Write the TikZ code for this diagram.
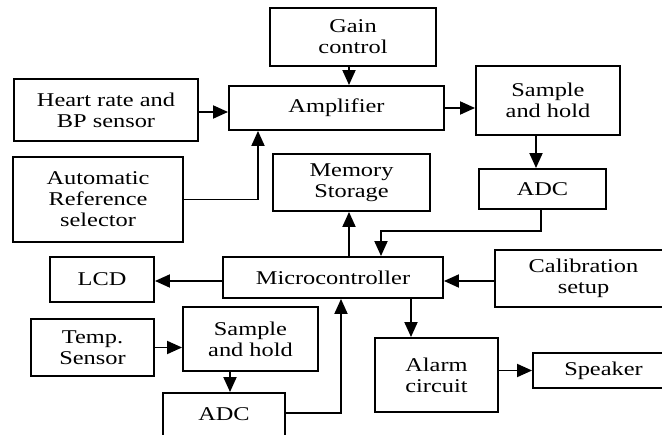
\documentclass[tikz,border=0pt]{standalone}
\usepackage{fontspec}
\setmainfont[FakeStretch=1.25]{Liberation Serif}
\usetikzlibrary{arrows.meta}

\tikzset{
  blk/.style={draw=black, line width=1.9pt, fill=white, inner sep=0pt,
              align=center, font=\fontsize{19.5}{21}\selectfont},
  link/.style={line width=1.9pt, -{Triangle[length=15pt,width=13pt]}},
}

\begin{document}
\begin{tikzpicture}[x=1pt, y=-1pt]
  \useasboundingbox (0,0) rectangle (662,435);
  \fill[white] (0,0) rectangle (662,435);
  \clip (0,0) rectangle (662,435);

  % blocks (centre, width, height)
  \node[blk, minimum width=166pt, minimum height=58pt] (gain)  at (353,37)     {Gain\\control};
  \node[blk, minimum width=215pt, minimum height=44pt] (amp)   at (336.5,108)  {Amplifier};
  \node[blk, minimum width=184pt, minimum height=62pt] (heart) at (106,110)    {Heart rate and\\BP sensor};
  \node[blk, minimum width=170pt, minimum height=85pt] (auto)  at (98,199.5)   {Automatic\\Reference\\selector};
  \node[blk, minimum width=157pt, minimum height=57pt] (mem)   at (351.5,182.5){Memory\\Storage};
  \node[blk, minimum width=144pt, minimum height=69pt] (sha)   at (548,100.5)  {Sample\\and hold};
  \node[blk, minimum width=127pt, minimum height=40pt] (adca)  at (542.5,189)  {ADC};
  \node[blk, minimum width=220pt, minimum height=41pt] (mcu)   at (333,277.5)  {Microcontroller};
  \node[blk, minimum width=104pt, minimum height=45pt] (lcd)   at (102,279.5)  {LCD};
  \node[blk, minimum width=177pt, minimum height=57pt] (cal)   at (583.5,278.5){Calibration\\setup};
  \node[blk, minimum width=123pt, minimum height=57pt] (temp)  at (92.5,347.5) {Temp.\\Sensor};
  \node[blk, minimum width=135pt, minimum height=64pt] (shb)   at (250.5,339)  {Sample\\and hold};
  \node[blk, minimum width=122pt, minimum height=48pt] (adcb)  at (224,417)    {\raisebox{6pt}{ADC}};
  \node[blk, minimum width=123pt, minimum height=74pt] (alarm) at (436.5,375)  {Alarm\\circuit};
  \node[blk, minimum width=141pt, minimum height=35pt] (spk)   at (603.5,370.5){Speaker};

  % signal paths
  \draw[link] ([xshift=-4pt]gain.south) -- ([xshift=-4pt]gain.south |- amp.north);
  \draw[link] ([yshift=-2pt]heart.east) -- ([yshift=-2pt]heart.east -| amp.west);
  \draw[link] (auto.east) -| ([xshift=-78.5pt]amp.south);
  \draw[link] (amp.east) -- (amp.east -| sha.west);
  \draw[link] ([xshift=-12pt]sha.south) -- ([xshift=-12pt]sha.south |- adca.north);
  \draw[link] ([xshift=-1.5pt]adca.south) -- ++(0,21) -| ([xshift=48pt]mcu.north);
  \draw[link] ([xshift=-2.5pt]mem.south |- mcu.north) -- ([xshift=-2.5pt]mem.south);
  \draw[link] ([yshift=-3.5pt]mcu.west) -- ([yshift=-3.5pt]mcu.west -| lcd.east);
  \draw[link] ([yshift=-2.5pt]cal.west) -- ([yshift=-2.5pt]cal.west -| mcu.east);
  \draw[link] (temp.east) -- (temp.east -| shb.west);
  \draw[link] ([xshift=6pt]adcb.north |- shb.south) -- ([xshift=6pt]adcb.north);
  \draw[link] ([yshift=4pt]adcb.east) -| ([xshift=8pt]mcu.south);
  \draw[link] ([xshift=78pt]mcu.south) -- ([xshift=78pt]mcu.south |- alarm.north);
  \draw[link] (spk.west -| alarm.east) -- (spk.west);
\end{tikzpicture}
\end{document}
